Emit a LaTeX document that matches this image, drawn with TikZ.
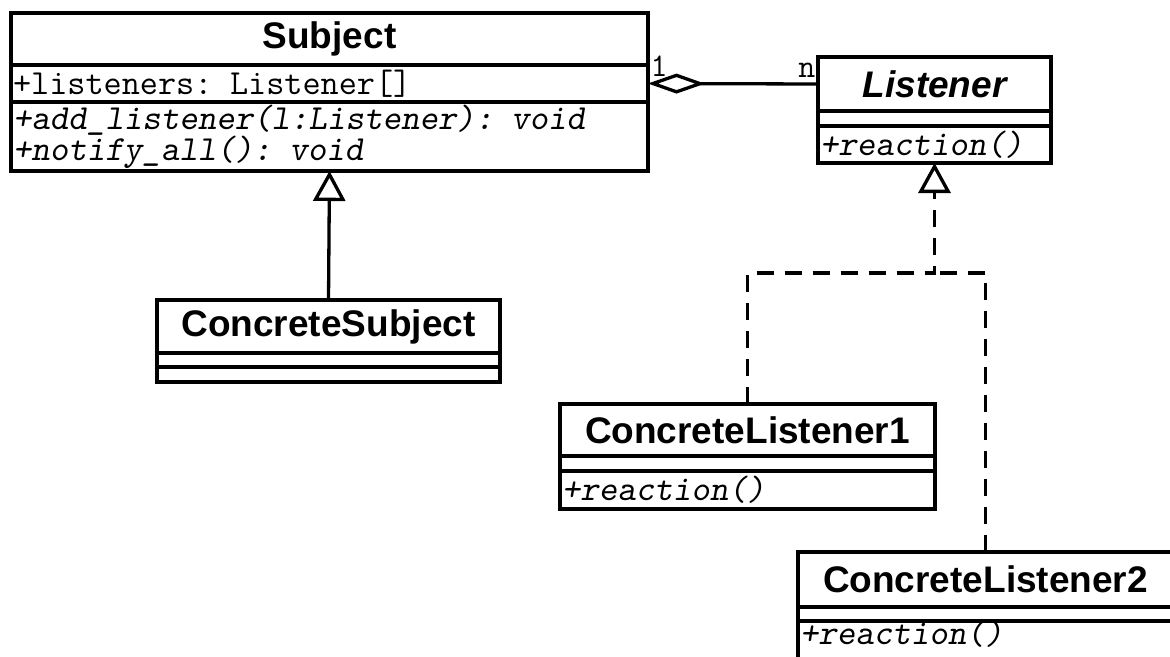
\documentclass[tikz,border=0pt]{standalone}
\usepackage{fontspec}
\usepackage{tikz}
\usetikzlibrary{arrows.meta,positioning}
\newfontfamily\umlsans{Liberation Sans}

\begin{document}
\begin{tikzpicture}[x=1pt,y=-1pt,line width=3.3pt]
      \tikzstyle{classname}=[draw,outer sep=0pt,inner sep=0pt,font=\umlsans\bfseries\fontsize{37}{40}\selectfont]
      \tikzstyle{members}=[draw,outer sep=0pt,inner xsep=2pt,inner ysep=0pt,align=left,font=\ttfamily\fontsize{35.2}{28}\selectfont]
      \tikzstyle{mult}=[inner sep=1pt,font=\ttfamily\fontsize{33}{33}\selectfont]
      \tikzstyle{realize}=[dash pattern=on 17pt off 11pt]
      \tikzstyle{openhead}=[-{Triangle[open,length=30pt,width=32pt]}]
      \useasboundingbox (0,0) rectangle (1170,656);
      % abstract subject and its listener interface
      \node[classname,minimum width=637pt,minimum height=52pt,anchor=north west] (subject) at (11,13) {Subject};
      \node[members,text width=633pt,minimum height=37pt,below=0pt of subject] (subject-attr) {+listeners: Listener[]};
      \node[members,text width=633pt,minimum height=69pt,below=0pt of subject-attr] (subject-ops) {\slshape +add\_listener(l:Listener): void\\\slshape +notify\_all(): void};
      \node[classname,minimum width=233pt,minimum height=54pt,anchor=north west] (listener) at (818,57) {\itshape Listener};
      \node[members,text width=229pt,minimum height=15pt,below=0pt of listener] (listener-attr) {};
      \node[members,text width=229pt,minimum height=37pt,below=0pt of listener-attr] (listener-ops) {\slshape +reaction()};
      % concrete classes
      \node[classname,minimum width=343pt,minimum height=53pt,anchor=north west] (csubject) at (157,300) {ConcreteSubject};
      \node[members,text width=339pt,minimum height=14pt,below=0pt of csubject] (csubject-attr) {};
      \node[members,text width=339pt,minimum height=15pt,below=0pt of csubject-attr] (csubject-ops) {};
      \node[classname,minimum width=375pt,minimum height=52pt,anchor=north west] (clistener1) at (560,404) {ConcreteListener1};
      \node[members,text width=371pt,minimum height=15pt,below=0pt of clistener1] (clistener1-attr) {};
      \node[members,text width=371pt,minimum height=38pt,below=0pt of clistener1-attr] (clistener1-ops) {\slshape +reaction()};
      \node[classname,minimum width=375pt,minimum height=55pt,anchor=north west] (clistener2) at (798,552) {ConcreteListener2};
      \node[members,text width=371pt,minimum height=14pt,below=0pt of clistener2] (clistener2-attr) {};
      \node[members,text width=371pt,minimum height=38pt,text height=22pt,text depth=14pt,below=0pt of clistener2-attr] (clistener2-ops) {\slshape +reaction()};
      % aggregation
      \draw[{Diamond[open,length=57pt,width=20pt]}-] (subject-attr.east) -- (listener.west)
        node[mult,pos=0,anchor=base west,yshift=7pt] {1}
        node[mult,pos=1,anchor=base east,yshift=7pt] {n};
      % inheritance and realization
      \draw[openhead] (csubject.north) -- (subject-ops.south);
      \coordinate (fork) at (listener-ops.south |- 0,273);
      \draw[realize,openhead] (clistener1.north) |- (fork) -- (listener-ops.south);
      \draw[realize] (clistener2.north) |- (fork);
    \end{tikzpicture}
\end{document}
